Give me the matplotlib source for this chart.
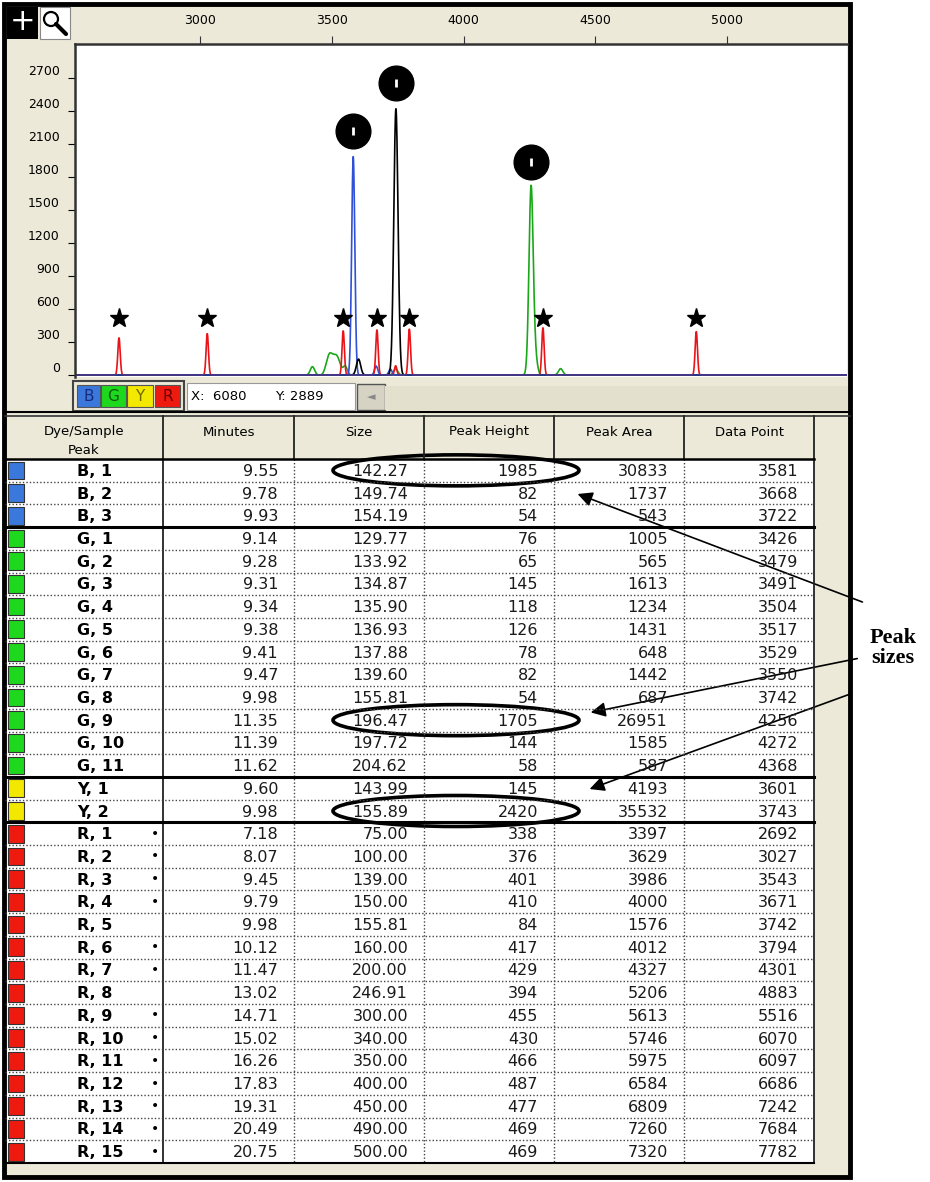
"""
electropherogram with peak table (GeneScan style screenshot)
"""

import numpy as np
import matplotlib.pyplot as plt
from matplotlib.patches import Rectangle, Ellipse, Circle, FancyArrowPatch

# peak table
peaks = ["B, 1", "B, 2", "B, 3",
         "G, 1", "G, 2", "G, 3", "G, 4", "G, 5", "G, 6", "G, 7", "G, 8", "G, 9", "G, 10", "G, 11",
         "Y, 1", "Y, 2",
         "R, 1", "R, 2", "R, 3", "R, 4", "R, 5", "R, 6", "R, 7", "R, 8", "R, 9", "R, 10",
         "R, 11", "R, 12", "R, 13", "R, 14", "R, 15"]
minutes = ["9.55", "9.78", "9.93",
           "9.14", "9.28", "9.31", "9.34", "9.38", "9.41", "9.47", "9.98", "11.35", "11.39", "11.62",
           "9.60", "9.98",
           "7.18", "8.07", "9.45", "9.79", "9.98", "10.12", "11.47", "13.02", "14.71", "15.02",
           "16.26", "17.83", "19.31", "20.49", "20.75"]
sizes = ["142.27", "149.74", "154.19",
         "129.77", "133.92", "134.87", "135.90", "136.93", "137.88", "139.60", "155.81", "196.47",
         "197.72", "204.62",
         "143.99", "155.89",
         "75.00", "100.00", "139.00", "150.00", "155.81", "160.00", "200.00", "246.91", "300.00",
         "340.00", "350.00", "400.00", "450.00", "490.00", "500.00"]
heights = [1985, 82, 54,
           76, 65, 145, 118, 126, 78, 82, 54, 1705, 144, 58,
           145, 2420,
           338, 376, 401, 410, 84, 417, 429, 394, 455, 430, 466, 487, 477, 469, 469]
areas = [30833, 1737, 543,
         1005, 565, 1613, 1234, 1431, 648, 1442, 687, 26951, 1585, 587,
         4193, 35532,
         3397, 3629, 3986, 4000, 1576, 4012, 4327, 5206, 5613, 5746, 5975, 6584, 6809, 7260, 7320]
data_points = [3581, 3668, 3722,
               3426, 3479, 3491, 3504, 3517, 3529, 3550, 3742, 4256, 4272, 4368,
               3601, 3743,
               2692, 3027, 3543, 3671, 3742, 3794, 4301, 4883, 5516, 6070, 6097, 6686, 7242, 7684, 7782]
bullet = ["R, 1", "R, 2", "R, 3", "R, 4", "R, 6", "R, 7", "R, 9", "R, 10",
          "R, 11", "R, 12", "R, 13", "R, 14", "R, 15"]

# marks on the electropherogram
star_peaks = ["R, 1", "R, 2", "R, 3", "R, 4", "R, 6", "R, 7", "R, 8"]
circled_peaks = ["B, 1", "Y, 2", "G, 9"]

headers = ["Minutes", "Size", "Peak Height", "Peak Area", "Data Point"]
x_ticks = [3000, 3500, 4000, 4500, 5000]
y_ticks = [0, 300, 600, 900, 1200, 1500, 1800, 2100, 2400, 2700]

BEIGE = "#ECE9D8"
square_col = {"B": "#3A78DC", "G": "#1ED81E", "Y": "#F2E800", "R": "#EE1A10"}
trace_col = {"B": "#3050D8", "G": "#1AA81A", "Y": "#000000", "R": "#E8141A"}
sigma = {"B": 6, "G": 8, "Y": 8, "R": 4.5}

fig = plt.figure(figsize=(9.3, 11.82), dpi=100)
fig.patch.set_facecolor("white")

# background layer in pixel coordinates
bg = fig.add_axes([0, 0, 1, 1])
bg.set_xlim(0, 930)
bg.set_ylim(1182, 0)
bg.axis("off")

# window background
bg.add_patch(Rectangle((5, 5), 845, 1172, facecolor=BEIGE, edgecolor="none"))

# toolbar buttons
bg.add_patch(Rectangle((7, 7), 31, 32, facecolor="black"))
bg.text(22.5, 22, "+", color="white", fontsize=22, ha="center", va="center")
bg.add_patch(Rectangle((40, 7), 30, 32, facecolor="white", edgecolor="#888888", lw=0.8))
bg.add_patch(Circle((51, 19), 7, fill=False, lw=1.6, color="black"))
bg.plot([56, 66], [24, 34], color="black", lw=3, solid_capstyle="round")

# dye buttons and coordinate box under the chart
bg.add_patch(Rectangle((73, 381), 111, 30, facecolor="none", edgecolor="#444444", lw=1.5))
btns = [("B", 77, 100, "#1a2a7a"), ("G", 101, 126, "#0a5a0a"),
        ("Y", 127, 153, "#6a6a00"), ("R", 155, 180, "#6a0000")]
for letter, x0, x1, tc in btns:
    bg.add_patch(Rectangle((x0, 385), x1 - x0, 22, facecolor=square_col[letter],
                           edgecolor="#555555", lw=0.8))
    bg.text((x0 + x1) / 2, 396.5, letter, color=tc, fontsize=11, ha="center", va="center")
bg.add_patch(Rectangle((187, 383), 168, 27, facecolor="white", edgecolor="#999999", lw=0.8))
bg.text(191, 397, "X:  6080", fontsize=9.5, va="center")
bg.text(275, 397, "Y: 2889", fontsize=9.5, va="center")
bg.add_patch(Rectangle((357, 384), 28, 26, facecolor="#D6D2C4", edgecolor="#555555", lw=1))
bg.text(371, 397, "\u25c4", fontsize=8, color="#888888", ha="center", va="center")
bg.add_patch(Rectangle((385, 386), 463, 24, facecolor="#E4E0CE", edgecolor="none"))

# separator between chart and table
bg.plot([5, 850], [412, 412], color="black", lw=1.5)
bg.plot([5, 850], [416, 416], color="#333333", lw=1.2)

# table
n = len(peaks)
row_top0 = 459
rh = (1163 - row_top0) / n
col_edges = [163, 294, 424, 554, 684, 814]
bg.add_patch(Rectangle((5, row_top0), 809, n * rh, facecolor="white", edgecolor="none"))

bg.text(84, 432, "Dye/Sample", fontsize=9.5, ha="center", va="center")
bg.text(84, 450, "Peak", fontsize=9.5, ha="center", va="center")
for i, h in enumerate(headers):
    bg.text((col_edges[i] + col_edges[i + 1]) / 2, 432, h, fontsize=9.5, ha="center", va="center")

for x in col_edges:
    bg.plot([x, x], [416, row_top0], color="#222222", lw=1.3)
for x in [163, 814]:
    bg.plot([x, x], [row_top0, 1163], color="#222222", lw=1.3)
for x in col_edges[1:-1]:
    bg.plot([x, x], [row_top0, 1163], color="#444444", lw=1, ls=(0, (1, 1.5)))

group_breaks = [3, 14, 16]
for i in range(1, n):
    y = row_top0 + i * rh
    if i in group_breaks:
        bg.plot([5, 814], [y, y], color="black", lw=2.2)
    else:
        bg.plot([5, 814], [y, y], color="#444444", lw=1, ls=(0, (1, 1.5)))
bg.plot([5, 814], [row_top0, row_top0], color="black", lw=1.8)
bg.plot([5, 814], [1163, 1163], color="black", lw=1.5)

num_right = [c - 16 for c in col_edges[1:]]
for i in range(n):
    top = row_top0 + i * rh
    yc = top + rh / 2 + 1
    dye = peaks[i][0]
    bg.add_patch(Rectangle((8, top + 2.5), 16, rh - 5, facecolor=square_col[dye],
                           edgecolor="#333333", lw=0.8))
    bg.text(77, yc, peaks[i], fontsize=11.5, fontweight="bold", va="center")
    if peaks[i] in bullet:
        bg.text(155, yc - 1, "\u2022", fontsize=10, ha="center", va="center")
    vals = [minutes[i], sizes[i], str(heights[i]), str(areas[i]), str(data_points[i])]
    for v, xr in zip(vals, num_right):
        bg.text(xr, yc, v, fontsize=11.5, ha="right", va="center", color="#1a1a1a")

# outer window frame
bg.add_patch(Rectangle((4, 4), 846, 1173, fill=False, edgecolor="black", lw=3.5))

# hand-drawn annotations
for name in ["B, 1", "G, 9", "Y, 2"]:
    i = peaks.index(name)
    yc = row_top0 + i * rh + rh / 2
    bg.add_patch(Ellipse((456, yc), 246, 31, fill=False, edgecolor="black", lw=2.6))

arrows = [((865, 603), (575, 493)), ((860, 658), (588, 713)), ((853, 693), (587, 790))]
for start, end in arrows:
    bg.add_patch(FancyArrowPatch(start, end, arrowstyle="-|>", mutation_scale=22,
                                 color="black", lw=1.2))
bg.text(893, 648, "Peak\nsizes", fontsize=16, fontweight="bold", family="Liberation Serif",
        ha="center", va="center", linespacing=1.05)

# electropherogram
ax = fig.add_axes([75 / 930, 1 - 377 / 1182, 772 / 930, 333 / 1182])
ax.set_facecolor("white")
ax.set_xlim(2525, 5455)
ax.set_ylim(-18, 3009)

x = np.arange(2525, 5456, 1.0)
for dye in ["G", "B", "Y", "R"]:
    trace = np.zeros_like(x)
    for p, h, dp in zip(peaks, heights, data_points):
        if p[0] == dye:
            trace += h * np.exp(-0.5 * ((x - dp) / sigma[dye]) ** 2)
    ax.plot(x, trace, color=trace_col[dye], lw=1.2)

ax.axhline(0, color="#2A3F9A", lw=1.2)

for p in star_peaks:
    ax.plot(data_points[peaks.index(p)], 520, marker="*", color="black", ms=14, ls="none")
for p in circled_peaks:
    i = peaks.index(p)
    ax.plot(data_points[i], heights[i] + 230, marker="o", color="black", ms=25, ls="none")
    ax.plot(data_points[i], heights[i] + 230, marker="|", color="white", ms=6, mew=2, ls="none")

ax.xaxis.tick_top()
ax.set_xticks(x_ticks)
ax.set_xticklabels([str(t) for t in x_ticks], fontsize=9)
ax.tick_params(axis="x", direction="out", length=6, pad=6, color="#333333")
ax.set_yticks(y_ticks)
ax.set_yticklabels([str(t) for t in y_ticks], fontsize=9)
ax.tick_params(axis="y", direction="out", length=5, pad=6, color="black")
plt.setp(ax.get_yticklabels(), va="bottom")
for side in ["bottom", "right"]:
    ax.spines[side].set_visible(False)
for side in ["left", "top"]:
    ax.spines[side].set_color("#333333")
    ax.spines[side].set_linewidth(1.8)

fig.savefig("out.png", dpi=100)
